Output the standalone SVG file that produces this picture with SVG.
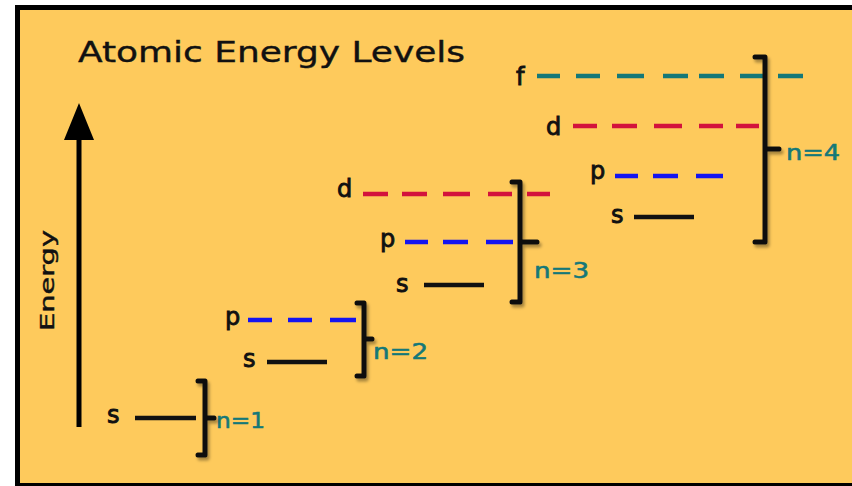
<svg xmlns="http://www.w3.org/2000/svg" width="852" height="486" viewBox="0 0 852 486">
  <defs>
    <filter id="shadow" x="-50%" y="-10%" width="200%" height="130%">
      <feDropShadow dx="2" dy="3" stdDeviation="1.5" flood-color="#000" flood-opacity="0.35"/>
    </filter>
  </defs>
  <style>
    .lbl { font-family: "DejaVu Sans", Verdana, sans-serif; font-size: 24px; fill: #111; stroke: #111; stroke-width: 0.9; }
    .nlbl { font-family: "DejaVu Sans", Verdana, sans-serif; font-size: 22px; fill: #157878; stroke: #157878; stroke-width: 0.6; }
    .title { font-family: "DejaVu Sans", Verdana, sans-serif; font-size: 29px; fill: #111; stroke: #111; stroke-width: 0.4; }
    .lvl { fill: none; stroke-width: 4.5; }
    .s { stroke: #111; }
    .p { stroke: #1414F0; }
    .d { stroke: #D3123C; }
    .f { stroke: #147878; }
    .brk { fill: none; stroke: #111; stroke-width: 5; stroke-linejoin: round; stroke-linecap: round; filter: url(#shadow); }
  </style>

  <!-- frame -->
  <rect x="15" y="5" width="845" height="490" fill="#000"/>
  <rect x="20" y="10" width="840" height="473" fill="#FECA5C"/>

  <g id="title">
    <text class="title" x="78" y="62" textLength="387" lengthAdjust="spacingAndGlyphs">Atomic Energy Levels</text>
  </g>

  <g id="energy-axis">
    <line x1="79" y1="138" x2="79" y2="427" stroke="#000" stroke-width="5"/>
    <polygon points="79,103 64,140 94,140" fill="#000"/>
    <text class="title" style="font-size:19px" transform="translate(54,331) rotate(-90)" textLength="101" lengthAdjust="spacingAndGlyphs">Energy</text>
  </g>

  <g id="shell-n1">
    <text class="lbl" x="107" y="423">s</text>
    <path class="lvl s" d="M135,418H196"/>
    <text class="nlbl" x="216" y="428" textLength="49" lengthAdjust="spacingAndGlyphs">n=1</text>
  </g>

  <g id="shell-n2">
    <text class="lbl" x="225" y="325">p</text>
    <path class="lvl p" d="M248,320H272M288,320H312M330,320H356"/>
    <text class="lbl" x="243" y="367">s</text>
    <path class="lvl s" d="M267,362H327"/>
    <text class="nlbl" x="373" y="359" textLength="55" lengthAdjust="spacingAndGlyphs">n=2</text>
  </g>

  <g id="shell-n3">
    <text class="lbl" x="337" y="197">d</text>
    <path class="lvl d" d="M363,194H388M402,194H427M443,194H470M488,194H512M527,194H550"/>
    <text class="lbl" x="380" y="247">p</text>
    <path class="lvl p" d="M405,242H428M443,242H468M486,242H513"/>
    <text class="lbl" x="396" y="292">s</text>
    <path class="lvl s" d="M424,285H484"/>
    <text class="nlbl" x="534" y="278" textLength="55" lengthAdjust="spacingAndGlyphs">n=3</text>
  </g>

  <g id="shell-n4">
    <text class="lbl" x="516" y="85">f</text>
    <path class="lvl f" d="M537,76H560M576,76H600M617,76H644M663,76H688M699,76H724M740,76H765M778,76H803"/>
    <text class="lbl" x="546" y="135">d</text>
    <path class="lvl d" d="M573,126H597M612,126H637M654,126H682M699,126H723M736,126H759"/>
    <text class="lbl" x="590" y="179">p</text>
    <path class="lvl p" d="M615,176H638M653,176H678M696,176H723"/>
    <text class="lbl" x="611" y="223">s</text>
    <path class="lvl s" d="M634,217H694"/>
    <text class="nlbl" x="786" y="160" textLength="54" lengthAdjust="spacingAndGlyphs">n=4</text>
  </g>

  <g id="brackets">
    <path class="brk" d="M198,381H205V455H198M205,418H214"/>
    <path class="brk" d="M357,303H364V376H357M364,339H372"/>
    <path class="brk" d="M512,182H520V302H512M520,242H537"/>
    <path class="brk" d="M755,57H765V242H755M765,149H779"/>
  </g>
</svg>
